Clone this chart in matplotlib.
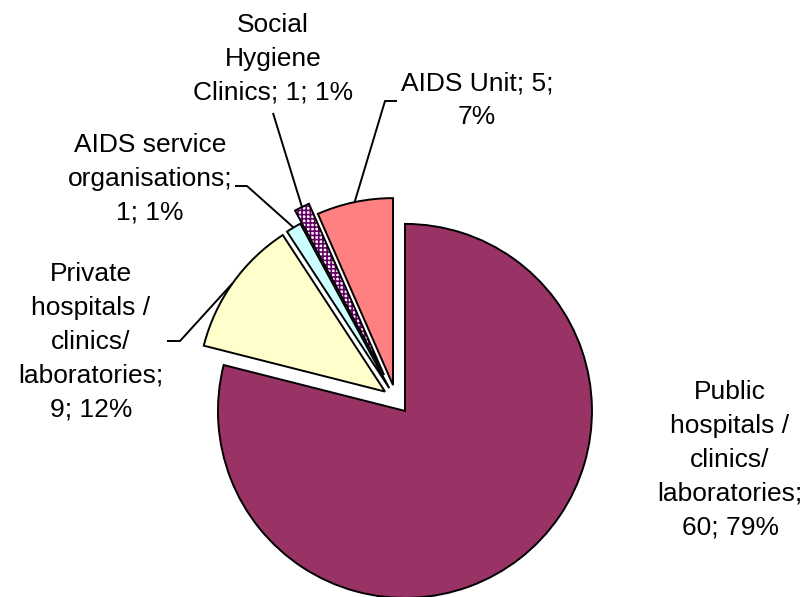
import numpy as np
import matplotlib.pyplot as plt
from matplotlib.patches import Wedge

plt.rcParams['font.family'] = ['Liberation Sans', 'DejaVu Sans']
plt.rcParams['hatch.linewidth'] = 1.2

# data
names = ["Public hospitals / clinics/ laboratories",
         "Private hospitals / clinics/ laboratories",
         "AIDS service organisations",
         "Social Hygiene Clinics",
         "AIDS Unit"]
counts = [60, 9, 1, 1, 5]
colors = ["#993366", "#FFFFCC", "#CCFFFF", "#FFFFFF", "#FF8080"]

total = sum(counts)
pcts = [f"{round(100 * c / total)}%" for c in counts]
labels = [
    f"Public\nhospitals /\nclinics/\nlaboratories;\n{counts[0]}; {pcts[0]}",
    f"Private\nhospitals /\nclinics/\nlaboratories;\n{counts[1]}; {pcts[1]}",
    f"AIDS service\norganisations;\n{counts[2]}; {pcts[2]}",
    f"Social\nHygiene\nClinics; {counts[3]}; {pcts[3]}",
    f"AIDS Unit; {counts[4]};\n{pcts[4]}",
]

# layout in pixels of the 807x597 picture
W, H = 807, 597
CX, CY, R = 396, 399.4, 187


def to_data(x, y):
    return (x - CX) / R, (CY - y) / R


fig = plt.figure(figsize=(W / 100, H / 100), dpi=100)
ax = fig.add_axes([0, 0, 1, 1])

explode = [0.078, 0.072, 0.07, 0.145, 0.078]
wedges, _ = ax.pie(counts, explode=explode, colors=colors, startangle=90,
                   counterclock=False, radius=1,
                   wedgeprops=dict(edgecolor="black", linewidth=1.4))

# checkered slice: purple hatch plus black outline on top
chk = wedges[3]
chk.set_hatch("++++")
chk.set_edgecolor("#660066")
chk.set_linewidth(0)
ax.add_patch(Wedge(chk.center, chk.r, chk.theta1, chk.theta2, fill=False,
                   edgecolor="black", linewidth=1.4, zorder=chk.get_zorder() + 0.1))

ax.set_xlim(-CX / R, (W - CX) / R)
ax.set_ylim((CY - H) / R, CY / R)
ax.set_aspect("auto")
ax.axis("off")

# label positions (pixel centres) and leader starts
label_pos = [(730, 460), (91, 342), (150, 179), (273, 59), (477, 100)]
leader_start = [None,
                [(167, 341), (180, 341)],
                [(235, 186), (247, 186)],
                [(273, 113)],
                [(397, 101), (385, 101)]]

for i, lab in enumerate(labels):
    tx, ty = to_data(*label_pos[i])
    ax.text(tx, ty, lab, ha="center", va="center", multialignment="center",
            fontsize=19, linespacing=1.52, color="black")
    if leader_start[i] is None:
        continue
    w = wedges[i]
    th = np.deg2rad((w.theta1 + w.theta2) / 2)
    end = (w.center[0] + w.r * np.cos(th), w.center[1] + w.r * np.sin(th))
    pts = [to_data(*p) for p in leader_start[i]] + [end]
    xs, ys = zip(*pts)
    ax.plot(xs, ys, color="black", lw=1.4, solid_capstyle="butt")

fig.savefig("out.png", dpi=100)
